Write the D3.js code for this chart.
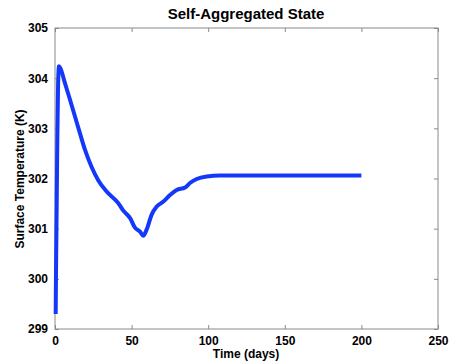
<!DOCTYPE html>
<html>
<head>
<meta charset="utf-8">
<script src="https://cdn.jsdelivr.net/npm/d3@7"></script>
<style>
  body { margin: 0; background: #fff; }
  svg text { font-family: "Liberation Sans", Arial, sans-serif; font-weight: bold; fill: #000; }
</style>
</head>
<body>
<svg id="chart" width="449" height="362"></svg>
<script>
// values
var timeDays = [0.45, 0.65, 1.1, 1.5, 2.0, 2.6, 3.5, 6.5, 9.8, 13.1, 16.3, 19.6, 23.9, 28.3,
  33.7, 41.3, 44.6, 49, 52.2, 55.5, 57.6, 59.8, 63.1, 66.4, 70.7, 75.1, 79.4, 84.9, 88.1,
  92.5, 99, 107.7, 127, 160, 200];
var surfTemp = [299.30, 300.11, 301.44, 302.77, 303.85, 304.24, 304.2, 303.90, 303.57, 303.23,
  302.90, 302.57, 302.23, 301.96, 301.74, 301.51, 301.36, 301.21, 301.02, 300.94, 300.86,
  300.98, 301.28, 301.44, 301.54, 301.67, 301.77, 301.82, 301.91, 301.99, 302.04, 302.06,
  302.06, 302.06, 302.06];
var xTicks = [0, 50, 100, 150, 200, 250];
var yTicks = [299, 300, 301, 302, 303, 304, 305];

var svg = d3.select('#chart');
var m = { left: 55, right: 438, top: 28, bottom: 329 };

var x = d3.scaleLinear().domain([0, 250]).range([m.left, m.right]);
var y = d3.scaleLinear().domain([299, 305]).range([m.bottom, m.top]);

// box
svg.append('rect')
  .attr('x', m.left).attr('y', m.top)
  .attr('width', m.right - m.left).attr('height', m.bottom - m.top)
  .attr('fill', 'none').attr('stroke', '#8a8a8a').attr('stroke-width', 1);

// ticks point inward, on all four sides
function axis(gen, tx, ty) {
  var g = svg.append('g').attr('transform', 'translate(' + tx + ',' + ty + ')').call(gen);
  g.select('.domain').remove();
  g.selectAll('.tick line').attr('stroke', '#8a8a8a');
  g.selectAll('text').style('font-size', '12px').style('font-family', null);
  return g;
}
axis(d3.axisBottom(x).tickValues(xTicks).tickSizeInner(-4).tickPadding(7).tickFormat(d3.format('d')), 0, m.bottom);
axis(d3.axisTop(x).tickValues(xTicks).tickSizeInner(-4).tickFormat(''), 0, m.top);
axis(d3.axisLeft(y).tickValues(yTicks).tickSizeInner(-4).tickPadding(7).tickFormat(d3.format('d')), m.left, 0);
axis(d3.axisRight(y).tickValues(yTicks).tickSizeInner(-4).tickFormat(''), m.right, 0);

// curve
var line = d3.line()
  .x(function (d, i) { return x(timeDays[i]); })
  .y(function (d) { return y(d); })
  .curve(d3.curveMonotoneX);
svg.append('path').datum(surfTemp)
  .attr('d', line)
  .attr('fill', 'none').attr('stroke', '#1438fa')
  .attr('stroke-width', 4).attr('stroke-linejoin', 'round');

// labels
svg.append('text').attr('x', 246).attr('y', 19).attr('text-anchor', 'middle')
  .style('font-size', '15px').text('Self-Aggregated State');
svg.append('text').attr('x', 246).attr('y', 358).attr('text-anchor', 'middle')
  .style('font-size', '12px').text('Time (days)');
svg.append('text').attr('transform', 'translate(24,179) rotate(-90)').attr('text-anchor', 'middle')
  .style('font-size', '12px').text('Surface Temperature (K)');
</script>
</body>
</html>
